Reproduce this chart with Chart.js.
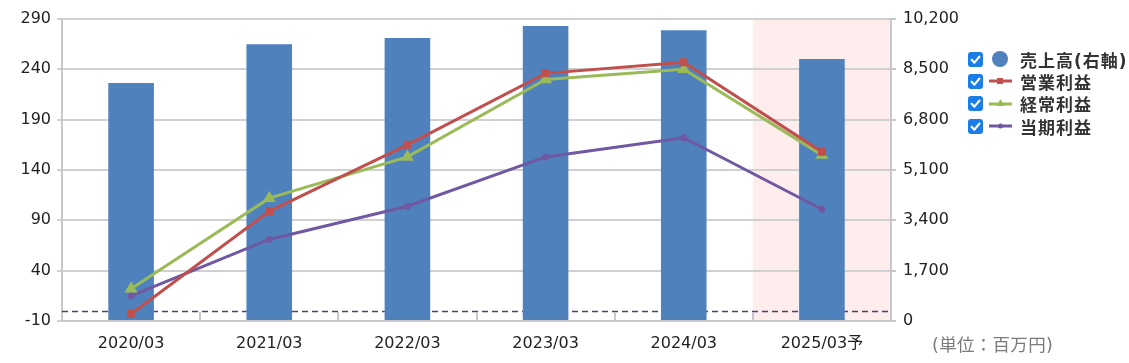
<!DOCTYPE html>
<html>
<head>
<meta charset="utf-8">
<script src="https://cdn.jsdelivr.net/npm/chart.js@4.4.1/dist/chart.umd.min.js"></script>
<style>
  body { margin: 0; background: #fff; }
  #wrap { position: relative; width: 1129px; height: 363px; }
  #legend { position: absolute; left: 968px; top: 48px; font-family: "DejaVu Sans", "Noto Sans CJK JP", sans-serif; font-weight: bold; font-size: 17px; color: #333; }
  .row { display: flex; align-items: center; height: 22.3px; white-space: nowrap; }
  .row svg { display: block; flex: none; }
  .row span { margin-left: 7px; letter-spacing: 1px; }
  #unit { position: absolute; left: 932px; top: 331px; font-family: "DejaVu Sans", "Noto Sans CJK JP", sans-serif; font-size: 17.5px; letter-spacing: 0.3px; color: #7a7a7a; white-space: nowrap; }
</style>
</head>
<body>
<div id="wrap">
  <canvas id="chart" width="1129" height="363"></canvas>
  <div id="legend"></div>
  <div id="unit">(単位：百万円)</div>
</div>
<script>
const categories = ["2020/03", "2021/03", "2022/03", "2023/03", "2024/03", "2025/03予"];
const sales = [8040, 9350, 9560, 9960, 9820, 8850];        // 売上高 (right axis)
const operatingProfit = [-3, 99, 165, 236, 247, 158];      // 営業利益
const ordinaryProfit = [22, 112, 153, 230, 240, 155];      // 経常利益
const netProfit = [15, 71, 104, 153, 172, 101];            // 当期利益
const leftAxis = { min: -10, max: 290, step: 50 };
const rightAxis = { min: 0, max: 10200, step: 1700 };
const forecastIndex = 5;

const BLUE = "#4f81bd";
const RED = "#c0504d";
const GREEN = "#9bbb59";
const PURPLE = "#7058a3";
const FONT = '"DejaVu Sans", "Noto Sans CJK JP", sans-serif';

// pink band behind the forecast year, drawn before the grid
const forecastBand = {
  id: "forecastBand",
  beforeDraw(chart) {
    const { ctx, chartArea, scales } = chart;
    const x = scales.x;
    const left = (x.getPixelForValue(forecastIndex - 1) + x.getPixelForValue(forecastIndex)) / 2;
    ctx.save();
    ctx.fillStyle = "#fdeded";
    ctx.fillRect(left, chartArea.top, chartArea.right - left, chartArea.bottom - chartArea.top);
    ctx.restore();
  }
};

// zero line (dashed) and small inner ticks between categories
const extras = {
  id: "extras",
  beforeDatasetsDraw(chart) {
    const { ctx, chartArea, scales } = chart;
    const y0 = Math.round(scales.y.getPixelForValue(0)) + 0.5;
    ctx.save();
    ctx.strokeStyle = "#45457a";
    ctx.lineWidth = 1.5;
    ctx.setLineDash([6, 4]);
    ctx.beginPath();
    ctx.moveTo(chartArea.left, y0);
    ctx.lineTo(chartArea.right, y0);
    ctx.stroke();
    ctx.setLineDash([]);
    ctx.strokeStyle = "#c8c8c8";
    ctx.lineWidth = 2;
    for (let i = 0; i < categories.length - 1; i++) {
      const bx = Math.round((scales.x.getPixelForValue(i) + scales.x.getPixelForValue(i + 1)) / 2);
      ctx.beginPath();
      ctx.moveTo(bx, chartArea.bottom);
      ctx.lineTo(bx, chartArea.bottom - 9);
      ctx.stroke();
    }
    ctx.restore();
  }
};

const tickFont = { family: FONT, size: 16 };

new Chart(document.getElementById("chart"), {
  type: "bar",
  data: {
    labels: categories,
    datasets: [
      {
        type: "line", label: "営業利益", data: operatingProfit, yAxisID: "y", order: 1,
        borderColor: RED, backgroundColor: RED, borderWidth: 3, tension: 0,
        pointStyle: "rect", pointRadius: 3.5
      },
      {
        type: "line", label: "経常利益", data: ordinaryProfit, yAxisID: "y", order: 2,
        borderColor: GREEN, backgroundColor: GREEN, borderWidth: 3, tension: 0,
        pointStyle: "triangle", pointRadius: 4.5
      },
      {
        type: "line", label: "当期利益", data: netProfit, yAxisID: "y", order: 3,
        borderColor: PURPLE, backgroundColor: PURPLE, borderWidth: 3, tension: 0,
        pointStyle: "circle", pointRadius: 2
      },
      {
        type: "bar", label: "売上高(右軸)", data: sales, yAxisID: "y1", order: 10,
        backgroundColor: BLUE, barPercentage: 0.33, categoryPercentage: 1
      }
    ]
  },
  options: {
    responsive: false,
    animation: false,
    layout: { padding: { top: 19, right: 168, left: 0, bottom: 0 } },
    plugins: { legend: { display: false }, tooltip: { enabled: false } },
    scales: {
      x: {
        grid: { display: false, drawTicks: false },
        border: { display: true, color: "#c8c8c8", width: 2 },
        ticks: { padding: 13, color: "#222", font: tickFont, maxRotation: 0 },
        afterFit(s) { s.height = 42; }
      },
      y: {
        position: "left",
        min: leftAxis.min, max: leftAxis.max,
        ticks: { stepSize: leftAxis.step, padding: 6, color: "#222", font: tickFont },
        grid: { color: "#d0d0d0", lineWidth: 2, tickLength: 5 },
        border: { color: "#c8c8c8", width: 2 },
        afterFit(s) { s.width = 62; }
      },
      y1: {
        position: "right",
        min: rightAxis.min, max: rightAxis.max,
        ticks: {
          stepSize: rightAxis.step, padding: 7, color: "#222", font: tickFont,
          callback: (v) => v.toLocaleString("en-US")
        },
        grid: { drawOnChartArea: false, color: "#c8c8c8", lineWidth: 2, tickLength: 5 },
        border: { color: "#c8c8c8", width: 2 },
        afterFit(s) { s.width = 70; }
      }
    }
  },
  plugins: [forecastBand, extras]
});

// legend with checkboxes
const check = '<svg width="15" height="15"><rect width="15" height="15" rx="3" fill="#1b7de6"/>' +
  '<path d="M3.6 7.8 L6.4 10.6 L11.4 4.6" stroke="#fff" stroke-width="2.2" fill="none" stroke-linecap="round" stroke-linejoin="round"/></svg>';

const markers = [
  '<svg width="30" height="20"><circle cx="17" cy="10" r="8" fill="' + BLUE + '"/></svg>',
  '<svg width="30" height="20"><line x1="6" y1="10" x2="29" y2="10" stroke="' + RED + '" stroke-width="3"/><rect x="14" y="7" width="6" height="6" fill="' + RED + '"/></svg>',
  '<svg width="30" height="20"><line x1="6" y1="10" x2="29" y2="10" stroke="' + GREEN + '" stroke-width="3"/><path d="M17.5 5 L21.5 12 L13.5 12 Z" fill="' + GREEN + '"/></svg>',
  '<svg width="30" height="20"><line x1="6" y1="10" x2="29" y2="10" stroke="' + PURPLE + '" stroke-width="3"/><circle cx="17.5" cy="10" r="2.5" fill="' + PURPLE + '"/></svg>'
];
const legendNames = ["売上高(右軸)", "営業利益", "経常利益", "当期利益"];

document.getElementById("legend").innerHTML = legendNames
  .map((name, i) => '<div class="row">' + check + markers[i] + '<span>' + name + '</span></div>')
  .join("");
</script>
</body>
</html>
